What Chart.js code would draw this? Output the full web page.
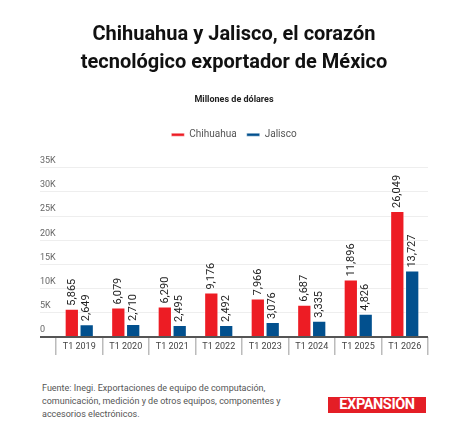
<!DOCTYPE html>
<html>
<head>
<meta charset="utf-8">
<script src="https://cdn.jsdelivr.net/npm/chart.js@4"></script>
<style>
  body { margin: 0; background: #fff; font-family: Roboto, sans-serif; }
  #wrap { position: absolute; left: 0; top: 0; width: 449px; height: 370px; }
  #footer { position: absolute; left: 42px; top: 382px; width: 250px; font-size: 9px; line-height: 12.8px; color: #555; }
  #logo { position: absolute; left: 328px; top: 397px; width: 98px; height: 16px; background: #e41e26; color: #fff;
          font-weight: 700; font-size: 14.5px; line-height: 16px; text-align: center; letter-spacing: -0.4px; }
</style>
</head>
<body>
<div id="wrap"><canvas id="chart"></canvas></div>
<div id="footer">Fuente: Inegi. Exportaciones de equipo de computación, comunicación, medición y de otros equipos, componentes y accesorios electrónicos.</div>
<div id="logo">EXPANSIÓN</div>
<script>
  const categories = ["T1 2019", "T1 2020", "T1 2021", "T1 2022", "T1 2023", "T1 2024", "T1 2025", "T1 2026"];
  const chihuahua = [5865, 6079, 6290, 9176, 7966, 6687, 11896, 26049];
  const jalisco = [2649, 2710, 2495, 2492, 3076, 3335, 4826, 13727];
  const yTicks = [0, 5000, 10000, 15000, 20000, 25000, 30000, 35000];

  // Rotated value labels above each bar
  const barLabels = {
    id: 'barLabels',
    afterDatasetsDraw(chart) {
      const ctx = chart.ctx;
      ctx.save();
      ctx.font = '11px Roboto';
      ctx.fillStyle = '#222';
      ctx.textAlign = 'left';
      ctx.textBaseline = 'middle';
      chart.data.datasets.forEach((ds, i) => {
        chart.getDatasetMeta(i).data.forEach((bar, j) => {
          ctx.save();
          ctx.translate(bar.x, bar.y - 3);
          ctx.rotate(-Math.PI / 2);
          ctx.fillText(ds.data[j].toLocaleString('en-US'), 0, 0);
          ctx.restore();
        });
      });
      ctx.restore();
    }
  };

  // Extra room below the legend
  const legendGap = {
    id: 'legendGap',
    beforeInit(chart) {
      const fit = chart.legend.fit;
      chart.legend.fit = function() {
        fit.call(this);
        this.height += 18;
      };
    }
  };

  new Chart(document.getElementById('chart'), {
    type: 'bar',
    data: {
      labels: categories,
      datasets: [
        { label: 'Chihuahua', data: chihuahua, backgroundColor: '#ed1c24', borderColor: 'rgba(255,255,255,0.45)', borderWidth: 1 },
        { label: 'Jalisco', data: jalisco, backgroundColor: '#02508e', borderColor: 'rgba(255,255,255,0.45)', borderWidth: 1 }
      ]
    },
    options: {
      responsive: true,
      maintainAspectRatio: false,
      animation: false,
      categoryPercentage: 0.64,
      barPercentage: 0.96,
      layout: { padding: { left: 40, right: 21, top: 0, bottom: 13 } },
      plugins: {
        title: {
          display: true,
          text: ['Chihuahua y Jalisco, el corazón', 'tecnológico exportador de México'],
          color: '#111',
          font: { family: 'Roboto', size: 20, weight: 'bold', lineHeight: 1.4 },
          padding: { top: 21, bottom: 10 }
        },
        subtitle: {
          display: true,
          text: 'Millones de dólares',
          color: '#222',
          font: { family: 'Roboto', size: 9, weight: 'bold', lineHeight: 1.3 },
          padding: { top: 7, bottom: 14 }
        },
        legend: {
          display: true,
          labels: {
            boxWidth: 13,
            boxHeight: 3,
            color: '#555',
            padding: 10,
            font: { family: 'Roboto', size: 10 }
          }
        },
        tooltip: { enabled: false }
      },
      scales: {
        x: {
          grid: { drawOnChartArea: false, tickLength: 18, color: '#bbb', lineWidth: 1.5, offset: true },
          border: { display: false },
          ticks: { color: '#444', padding: -14, font: { family: 'Roboto', size: 9 } },
          afterFit(scale) { scale.height = 20; }
        },
        y: {
          min: 0,
          max: 35000,
          afterBuildTicks(scale) { scale.ticks = yTicks.map(v => ({ value: v })); },
          grid: {
            tickLength: 16,
            color: c => c.tick && c.tick.value === 0 ? '#555' : '#eee',
            lineWidth: c => c.tick && c.tick.value === 0 ? 2 : 1
          },
          border: { display: false },
          ticks: {
            color: '#666',
            crossAlign: 'far',
            labelOffset: -7,
            font: { family: 'Roboto', size: 9 },
            callback: v => v === 0 ? '0' : (v / 1000) + 'K'
          },
          afterFit(scale) { scale.width = 16; }
        }
      }
    },
    plugins: [legendGap, barLabels]
  });
</script>
</body>
</html>
